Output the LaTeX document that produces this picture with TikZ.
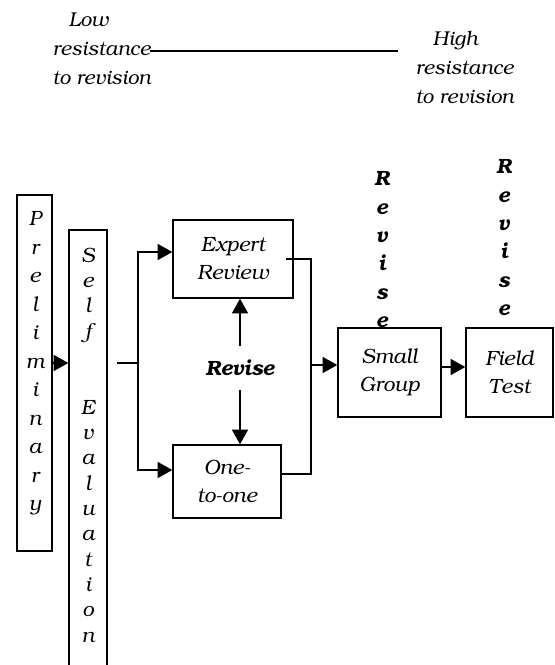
\documentclass[tikz,border=0pt]{standalone}
\usepackage[T1]{fontenc}
\usepackage{bookman}
\usetikzlibrary{arrows.meta}

\tikzset{
	stage/.style={draw,line width=1pt,align=center,inner sep=0pt,font=\itshape\fontsize{15.5}{21}\selectfont},
	label/.style={align=left,inner sep=0pt,font=\itshape\fontsize{15}{21.75}\selectfont},
	letters/.style={align=center,inner sep=0pt,font=\itshape\fontsize{15.5}{21.4}\selectfont},
	revletters/.style={align=center,inner sep=0pt,font=\bfseries\itshape\fontsize{15.5}{21.3}\selectfont}
}

\begin{document}
\begin{tikzpicture}[x=0.75pt,y=-0.75pt,> = {Triangle[length=11pt,width=12pt]},line width=1pt]
	\useasboundingbox (0,0) rectangle (555,665);

	% resistance scale
	\node[label,anchor=north west] (low) at (52,12) {\hspace*{12pt}Low\\resistance\\to revision};
	\node[label,anchor=north west] (high) at (415,30) {\hspace*{12.75pt}High\\resistance\\to revision};
	\coordinate (lowend) at (150,51);
	\coordinate (highend) at (398,51);
	\draw[line width=1.6pt] (lowend) -- (highend);

	% stages
	\node[stage,minimum width=26.25pt,minimum height=267pt] (prelim) at (34.5,373) {};
	\node[letters,anchor=north] (prelimtxt) at (35,211) {P\\r\\e\\l\\i\\m\\i\\n\\a\\r\\y};
	\node[stage,minimum width=28.5pt,minimum height=367.5pt] (self) at (88,475) {};
	\node[letters,anchor=north,font=\itshape\fontsize{15.5}{19}\selectfont] (selftxt) at (88,247) {S\\e\\l\\f\\[38pt]E\\v\\a\\l\\u\\a\\t\\i\\o\\n};
	\node[stage,minimum width=90pt,minimum height=58.5pt] (expert) at (233,259) {Expert\\Review};
	\node[stage,minimum width=81pt,minimum height=54.75pt] (one) at (227,481.5) {One-\\to-one};
	\node[stage,minimum width=77.25pt,minimum height=66.75pt] (small) at (389.5,372.5) {Small\\Group};
	\node[stage,minimum width=65.25pt,minimum height=66.75pt] (field) at (509.5,372.5) {Field\\Test};

	% revise labels
	\node[inner xsep=0pt,inner ysep=10pt,font=\bfseries\itshape\fontsize{15.5}{17}\selectfont] (revise) at (240,368) {Revise};
	\node[revletters,anchor=north] (revsmall) at (382,171) {R\\e\\v\\i\\s\\e};
	\node[revletters,anchor=north] (revfield) at (504,159) {R\\e\\v\\i\\s\\e};

	\coordinate (selfout) at (117,363);
	\coordinate (split) at (138,363);
	\coordinate (mbot) at (311,474);

	\draw[->] (prelim.east |- split) -- (self.west |- split);
	\draw (selfout) -- (split);
	\draw[->] (split) |- (expert.west |- 0,252);
	\draw[->] (split) |- (one.west |- 0,470);
	\draw[->] (revise.north) -- (revise.north |- expert.south);
	\draw[->] (revise.south) -- (revise.south |- one.north);
	\draw ([xshift=-6pt]expert.east) -| (mbot) -- (one.east |- mbot);
	\draw[->] (mbot |- 0,365) -- (small.west |- 0,365);
	\draw[->] (small.east |- 0,367) -- (field.west |- 0,367);
\end{tikzpicture}
\end{document}
